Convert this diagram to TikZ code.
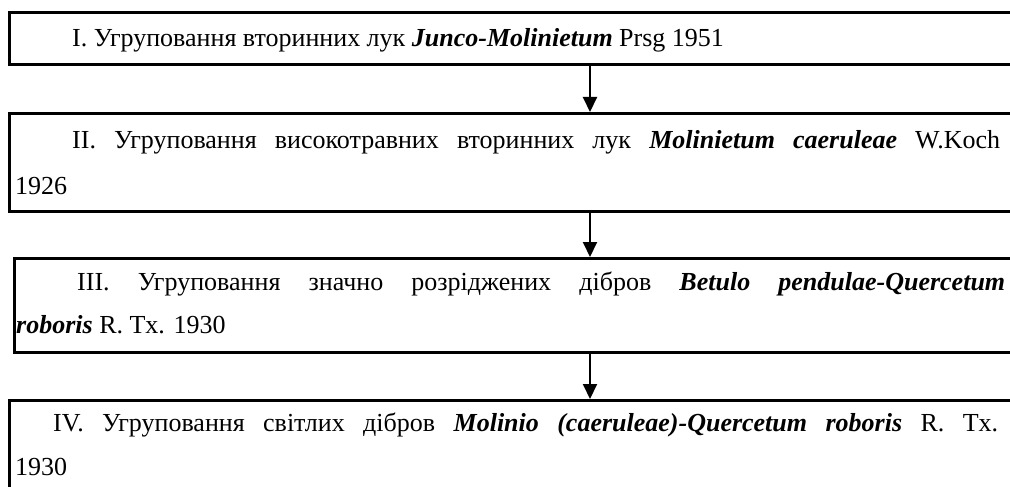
\documentclass[tikz,border=0pt]{standalone}
\usepackage{fontspec}
\setmainfont{Liberation Serif}
\usetikzlibrary{arrows.meta}
\tikzset{
  boxst/.style={draw, line width=3pt, rectangle, inner sep=0pt, outer sep=0pt},
  txt/.style={anchor=base west, inner sep=0pt, font=\fontsize{26}{30}\selectfont},
  arr/.style={line width=2pt, -{Triangle[length=15pt,width=14pt]}, shorten >=1pt}
}
\newcommand{\bi}[1]{\textbf{\textit{#1}}}
\begin{document}
\begin{tikzpicture}[x=1pt,y=-1pt]
\useasboundingbox (0,0) rectangle (1010,487);
\clip (0,0) rectangle (1010,487);
% boxes
\node[boxst, minimum width=1021pt, minimum height=51.5pt] (b1) at (519.5,38.75) {};
\node[boxst, minimum width=1021pt, minimum height=98pt] (b2) at (519.5,162) {};
\node[boxst, minimum width=1016pt, minimum height=94pt] (b3) at (522,305) {};
\node[boxst, minimum width=1021pt, minimum height=110pt] (b4) at (519.5,455) {};
\coordinate (ax) at (590,0);
% arrows
\draw[arr] (b1.south -| ax) -- (b2.north -| ax);
\draw[arr] (b2.south -| ax) -- (b3.north -| ax);
\draw[arr] (b3.south -| ax) -- (b4.north -| ax);
% texts
\node[txt] (t1) at (72,47) {I. Угруповання вторинних лук \bi{Junco-Molinietum} Prsg 1951};
\node[txt] (t2a) at (72,148) {\makebox[928pt][s]{II. Угруповання високотравних вторинних лук \bi{Molinietum caeruleae} W.Koch}};
\node[txt] (t2b) at (15,194) {1926};
\node[txt] (t3a) at (77,290) {\makebox[928pt][s]{III. Угруповання значно розріджених дібров \bi{Betulo pendulae-Quercetum}}};
\node[txt] (t3b) at (16,333) {\bi{roboris} R. Tx. 1930};
\node[txt] (t4a) at (53,431) {\makebox[945pt][s]{IV. Угруповання світлих дібров \bi{Molinio (caeruleae)-Quercetum roboris} R. Tx.}};
\node[txt] (t4b) at (15,475) {1930};
\end{tikzpicture}
\end{document}
